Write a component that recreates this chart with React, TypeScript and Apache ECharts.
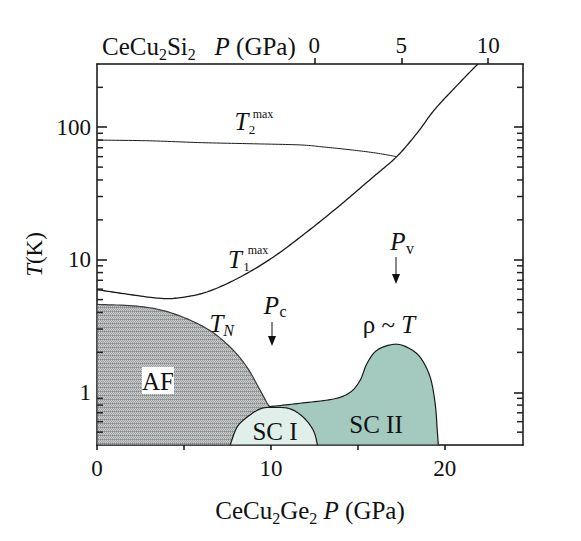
import React, { useEffect, useRef } from 'react';
import * as echarts from 'echarts';

// ---------- data (bottom axis: CeCu2Ge2 pressure, GPa; y: temperature, K) ----------
const T2MAX_P = [0, 3, 6, 9, 11.7, 13, 14.6, 16, 17.24];
const T2MAX_T = [80, 79, 76.5, 75, 73.5, 71, 67.5, 64, 60];

const T1MAX_P = [0, 1.53, 3.45, 4.6, 6.32, 8.24, 10.15, 12.07, 13.98, 15.9, 17.24, 18.4, 19.4, 20.6, 21.9];
const T1MAX_T = [5.95, 5.55, 5.14, 5.14, 5.71, 7.41, 10.5, 16.2, 25.8, 42.3, 60, 90, 135, 200, 300];

const AF_P = [0, 2.49, 4.4, 6.32, 7.66, 8.62, 9.39, 9.86, 10.1];
const AF_T = [4.6, 4.44, 3.92, 3.02, 2.19, 1.55, 1.03, 0.8, 0.76];

const SC1_P = [7.66, 8.05, 8.62, 9.39, 10.15, 11.11, 11.87, 12.45, 12.68];
const SC1_T = [0.4, 0.544, 0.647, 0.749, 0.77, 0.749, 0.647, 0.513, 0.4];

const SC2_P = [9.96, 11.68, 13.6, 14.56, 15.13, 15.52, 16.09, 17.05, 17.82, 18.58, 19.16, 19.45, 19.57, 19.63];
const SC2_T = [0.78, 0.826, 0.89, 1.0, 1.23, 1.64, 2.07, 2.3, 2.19, 1.84, 1.3, 0.817, 0.513, 0.4];

const BOTTOM_TICKS = [0, 5, 10, 15, 20];
const BOTTOM_LABELS = [0, 10, 20];
const TOP_TICKS = [0, 5, 10];
const TOP_OFFSET = 12.5; // CeCu2Si2 P = CeCu2Ge2 P - 12.5
const Y_MAJOR = [1, 10, 100];
const Y_MINOR = [0.5, 0.6, 0.7, 0.8, 0.9, 2, 3, 4, 5, 6, 7, 8, 9, 20, 30, 40, 50, 60, 70, 80, 90, 200];

const X_MIN = 0;
const X_MAX = 24.5;
const Y_MIN = 0.4;
const Y_MAX = 300;

const FONT = "'Liberation Serif', 'Times New Roman', serif";

function zip(a: number[], b: number[]) {
  return a.map((v, i) => [v, b[i]]);
}

function catmull(pts: number[][], seg = 12): number[][] {
  const out: number[][] = [];
  for (let i = 0; i < pts.length - 1; i++) {
    const p0 = pts[Math.max(i - 1, 0)];
    const p1 = pts[i];
    const p2 = pts[i + 1];
    const p3 = pts[Math.min(i + 2, pts.length - 1)];
    for (let s = 0; s < seg; s++) {
      const t = s / seg;
      const t2 = t * t;
      const t3 = t2 * t;
      out.push(
        [0, 1].map(
          (k) =>
            0.5 *
            (2 * p1[k] +
              (-p0[k] + p2[k]) * t +
              (2 * p0[k] - 5 * p1[k] + 4 * p2[k] - p3[k]) * t2 +
              (-p0[k] + 3 * p1[k] - 3 * p2[k] + p3[k]) * t3)
        )
      );
    }
  }
  out.push(pts[pts.length - 1]);
  return out;
}

function regionSeries(name: string, data: number[][], closing: number[][], fill: any, stroke: string, z: number) {
  return {
    type: 'custom',
    name,
    xAxisIndex: 0,
    yAxisIndex: 0,
    data,
    clip: true,
    silent: true,
    z,
    renderItem: (params: any, api: any) => {
      if (params.dataIndex !== 0) return null;
      const pts = data.map((d) => api.coord(d));
      const curve = catmull(pts, 12);
      const tail = closing.map((d) => api.coord(d));
      return {
        type: 'polygon',
        shape: { points: curve.concat(tail) },
        style: { fill, stroke, lineWidth: 1.2 },
      };
    },
  };
}

function curveSeries(name: string, data: number[][], width: number) {
  return {
    type: 'custom',
    name,
    xAxisIndex: 0,
    yAxisIndex: 0,
    data,
    clip: true,
    silent: true,
    z: 5,
    renderItem: (params: any, api: any) => {
      if (params.dataIndex !== 0) return null;
      const pts = catmull(data.map((d) => api.coord(d)), 14);
      return {
        type: 'polyline',
        shape: { points: pts },
        style: { fill: null, stroke: '#1a1a1a', lineWidth: width },
      };
    },
  };
}

// minor ticks of the log axis on both frame edges, placed through the axes' scales
function minorTickSeries(side: 'left' | 'right') {
  return {
    type: 'custom',
    name: 'minor ticks ' + side,
    xAxisIndex: 0,
    yAxisIndex: 0,
    data: Y_MINOR.map((v) => [side === 'left' ? X_MIN : X_MAX, v]),
    clip: false,
    silent: true,
    z: 20,
    renderItem: (params: any, api: any) => {
      const p = api.coord([api.value(0), api.value(1)]);
      const len = 6;
      return {
        type: 'rect',
        shape: { x: side === 'left' ? p[0] : p[0] - len, y: p[1] - 0.75, width: len, height: 1.5 },
        style: { fill: '#222' },
      };
    },
  };
}

function makePattern() {
  try {
    const c = document.createElement('canvas');
    c.width = 4;
    c.height = 4;
    const ctx = c.getContext('2d');
    if (!ctx) return '#b3b5b5';
    ctx.fillStyle = '#cbcdcd';
    ctx.fillRect(0, 0, 4, 4);
    ctx.fillStyle = '#9fa3a3';
    for (let y = 0; y < 4; y++) {
      for (let x = 0; x < 4; x++) {
        if ((x + y) % 2 === 0) ctx.fillRect(x, y, 1, 1);
      }
    }
    ctx.fillStyle = '#868a8a';
    ctx.fillRect(0, 3, 1, 1);
    ctx.fillRect(2, 3, 1, 1);
    return { image: c.toDataURL(), repeat: 'repeat' };
  } catch (e) {
    return '#b3b5b5';
  }
}

const txt = (x: number, y: number, text: string, size: number, italic = false) => ({
  type: 'text',
  x,
  y,
  z: 100,
  silent: true,
  style: {
    text,
    fontSize: size,
    fontFamily: FONT,
    fontStyle: italic ? 'italic' : 'normal',
    fill: '#111',
    align: 'center',
    verticalAlign: 'middle',
  },
});

export default function App() {
  const ref = useRef<HTMLDivElement>(null);

  useEffect(() => {
    if (!ref.current) return;
    const chart = echarts.init(ref.current, undefined, { renderer: 'svg' });

    const richTitle = {
      n: { fontSize: 25, fontFamily: FONT, color: '#111', lineHeight: 32 },
      i: { fontSize: 25, fontFamily: FONT, fontStyle: 'italic', color: '#111', lineHeight: 32 },
      s: { fontSize: 16, fontFamily: FONT, color: '#111', lineHeight: 12, verticalAlign: 'bottom' },
    };

    const axisLine = { show: true, onZero: false, lineStyle: { color: '#111', width: 1.5 } };
    const tickStyle = { color: '#111', width: 1.5 };
    const labelStyle = { color: '#111', fontSize: 23, fontFamily: FONT };

    const graphic: any[] = [
      {
        type: 'text',
        x: 102,
        y: 46,
        z: 100,
        silent: true,
        style: {
          text: '{n|CeCu}{s|2}{n|Si}{s|2}{n|   }{i|P}{n| (GPa)}',
          rich: {
            n: { fontSize: 25, fontFamily: FONT, fill: '#111', lineHeight: 32 },
            i: { fontSize: 25, fontFamily: FONT, fontStyle: 'italic', fill: '#111', lineHeight: 32 },
            s: { fontSize: 16, fontFamily: FONT, fill: '#111', lineHeight: 12, verticalAlign: 'bottom' },
          },
          align: 'left',
          verticalAlign: 'middle',
        },
      },
      // T2max
      txt(241.5, 121, 'T', 25, true),
      txt(252, 129, '2', 13),
      txt(263, 113.5, 'max', 12),
      // T1max
      txt(235, 259, 'T', 25, true),
      txt(246.5, 266, '1', 13),
      txt(258, 250, 'max', 12),
      // TN
      txt(216.5, 323, 'T', 25, true),
      txt(228.5, 330, 'N', 16, true),
      // Pc
      txt(271.5, 305, 'P', 25, true),
      txt(283, 311, 'c', 16),
      { type: 'line', z: 100, silent: true, shape: { x1: 272, y1: 322, x2: 272, y2: 337 }, style: { stroke: '#111', lineWidth: 1 } },
      { type: 'polygon', z: 100, silent: true, shape: { points: [[268, 336], [276, 336], [272, 346]] }, style: { fill: '#111' } },
      // Pv
      txt(398, 241, 'P', 25, true),
      txt(410, 248, 'v', 16),
      { type: 'line', z: 100, silent: true, shape: { x1: 396, y1: 257, x2: 396, y2: 275 }, style: { stroke: '#111', lineWidth: 1 } },
      { type: 'polygon', z: 100, silent: true, shape: { points: [[392, 274], [400, 274], [396, 284]] }, style: { fill: '#111' } },
      // rho ~ T
      {
        type: 'text',
        x: 389,
        y: 324,
        z: 100,
        silent: true,
        style: {
          text: '{n|ρ ~ }{i|T}',
          rich: {
            n: { fontSize: 25, fontFamily: FONT, fill: '#111' },
            i: { fontSize: 25, fontFamily: FONT, fontStyle: 'italic', fill: '#111' },
          },
          align: 'center',
          verticalAlign: 'middle',
        },
      },
      // AF box
      { type: 'rect', z: 99, silent: true, shape: { x: 142, y: 367, width: 32, height: 27 }, style: { fill: '#fff' } },
      txt(158, 381, 'AF', 25),
      txt(275, 431, 'SC I', 25),
      txt(376, 424, 'SC II', 25),
    ];

    const option: any = {
      animation: false,
      backgroundColor: '#fff',
      textStyle: { fontFamily: FONT },
      grid: { left: 97, right: 58, top: 64, bottom: 96 },
      xAxis: [
        {
          type: 'value',
          position: 'bottom',
          min: X_MIN,
          max: X_MAX,
          axisLine,
          axisTick: { show: true, inside: false, length: 5, customValues: BOTTOM_TICKS, lineStyle: tickStyle },
          axisLabel: { ...labelStyle, margin: 12, customValues: BOTTOM_LABELS },
          splitLine: { show: false },
          name: '{n|CeCu}{s|2}{n|Ge}{s|2}{n| }{i|P}{n| (GPa)}',
          nameLocation: 'middle',
          nameGap: 49,
          nameTextStyle: { rich: richTitle },
        },
        {
          type: 'value',
          position: 'top',
          min: X_MIN - TOP_OFFSET,
          max: X_MAX - TOP_OFFSET,
          axisLine,
          axisTick: { show: true, inside: false, length: 6, customValues: TOP_TICKS, lineStyle: tickStyle },
          axisLabel: { ...labelStyle, margin: 7, customValues: TOP_TICKS },
          splitLine: { show: false },
        },
      ],
      yAxis: [
        {
          type: 'log',
          logBase: 10,
          position: 'left',
          min: Y_MIN,
          max: Y_MAX,
          axisLine,
          axisTick: { show: true, inside: true, length: 10, customValues: Y_MAJOR, lineStyle: tickStyle },
          axisLabel: { ...labelStyle, margin: 6, customValues: Y_MAJOR },
          splitLine: { show: false },
          name: '{i|T}{n|(K)}',
          nameLocation: 'middle',
          nameGap: 48,
          nameTextStyle: {
            rich: {
              n: { fontSize: 23, fontFamily: FONT, color: '#111' },
              i: { fontSize: 23, fontFamily: FONT, fontStyle: 'italic', color: '#111' },
            },
          },
        },
        {
          type: 'log',
          logBase: 10,
          position: 'right',
          min: Y_MIN,
          max: Y_MAX,
          axisLine,
          axisTick: { show: true, inside: true, length: 9, customValues: Y_MAJOR, lineStyle: tickStyle },
          axisLabel: { show: false },
          splitLine: { show: false },
        },
      ],
      series: [
        regionSeries('AF', zip(AF_P, AF_T), [[AF_P[AF_P.length - 1], Y_MIN], [AF_P[0], Y_MIN]], makePattern(), '#3a3a3a', 2),
        regionSeries('SC II', zip(SC2_P, SC2_T), [[SC2_P[0], Y_MIN]], '#a4cac0', '#1a1a1a', 3),
        regionSeries('SC I', zip(SC1_P, SC1_T), [], '#e1efeb', '#1a1a1a', 4),
        curveSeries('T1max', zip(T1MAX_P, T1MAX_T), 1.3),
        curveSeries('T2max', zip(T2MAX_P, T2MAX_T), 1.0),
        minorTickSeries('left'),
        minorTickSeries('right'),
      ],
      graphic,
    };

    chart.setOption(option);
    return () => chart.dispose();
  }, []);

  return (
    <div
      ref={ref}
      style={{ position: 'fixed', left: 0, top: 0, width: 581, height: 541, background: '#fff' }}
    />
  );
}
